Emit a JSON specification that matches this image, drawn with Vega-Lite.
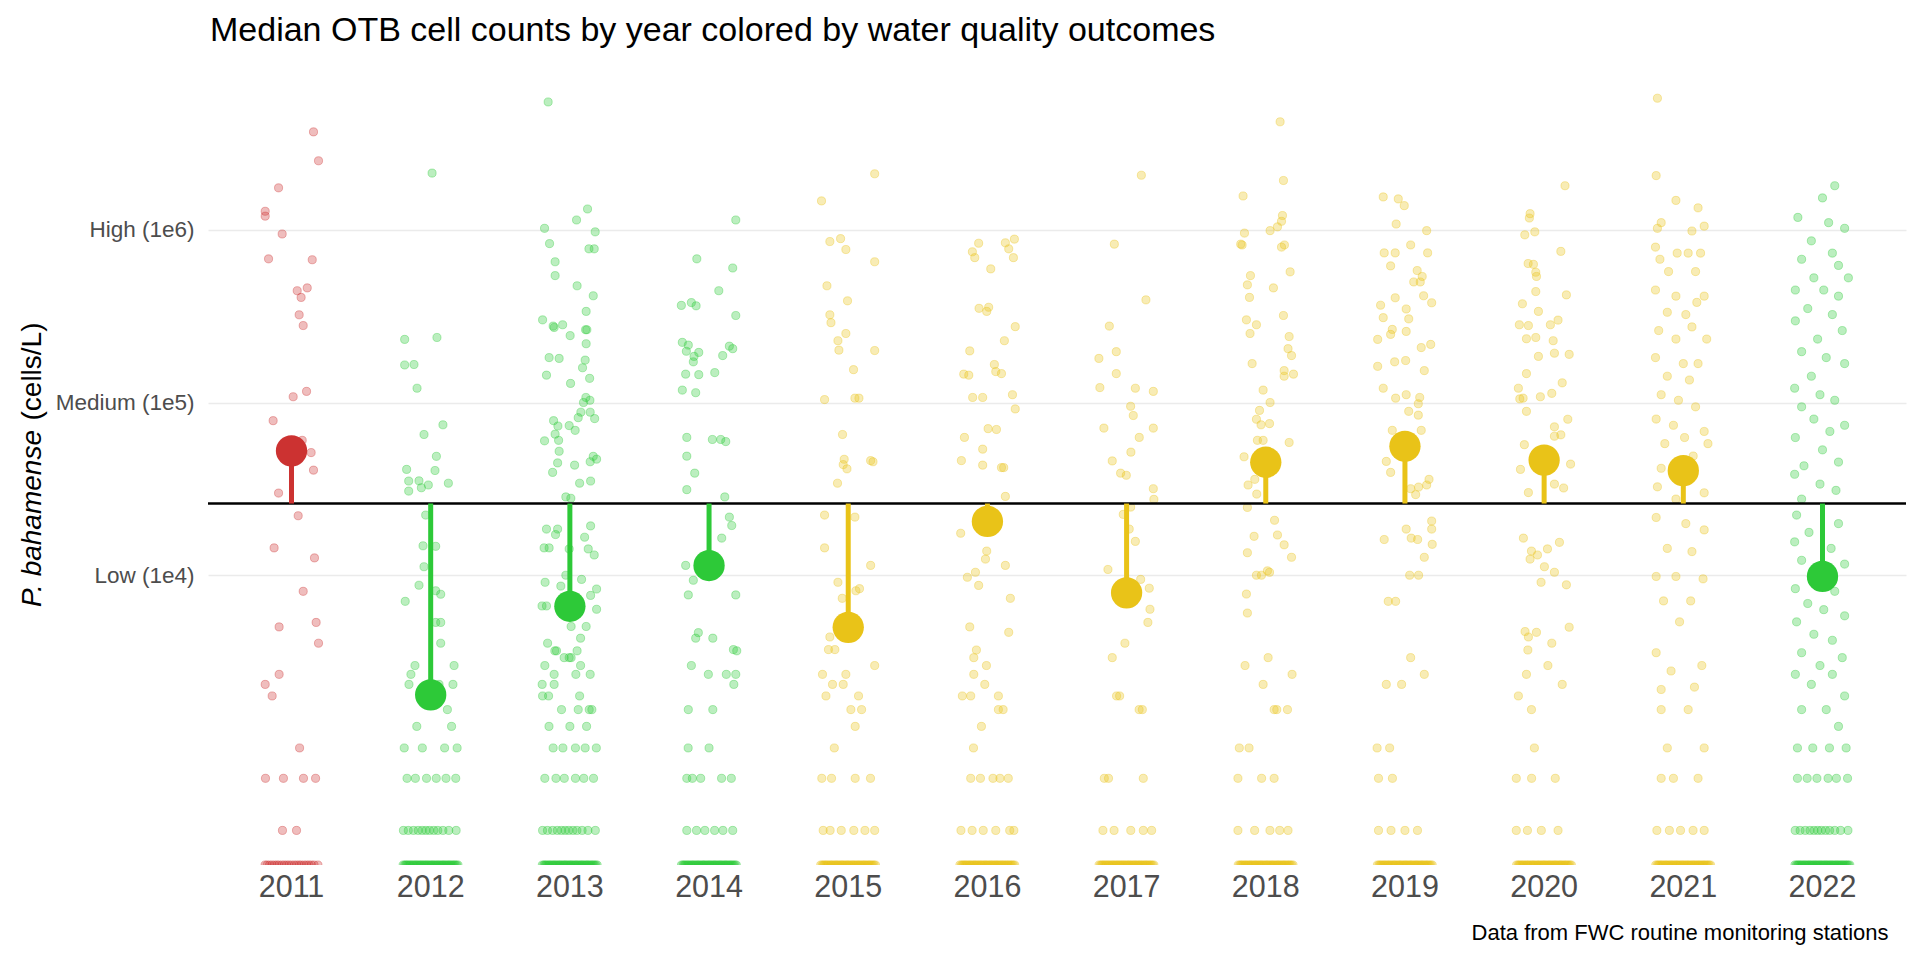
{
  "$schema": "https://vega.github.io/schema/vega-lite/v6.json",
  "width": 1698,
  "height": 800,
  "autosize": {"type": "none"},
  "padding": {"left": 208, "top": 65, "right": 14, "bottom": 95},
  "background": "white",
  "config": {"view": {"stroke": null}, "font": "Liberation Sans"},
  "title": {"text": "Median OTB cell counts by year colored by water quality outcomes", "anchor": "start", "frame": "group", "fontSize": 34, "fontWeight": "normal", "font": "Liberation Sans", "color": "black", "offset": 22, "baseline": "alphabetic", "dx": 2, "dy": 32},
  "datasets": {
    "medians": [
      {"year": "2011", "median": 52500, "threshold": 26000, "outcome": "red"},
      {"year": "2012", "median": 2030, "threshold": 26000, "outcome": "green"},
      {"year": "2013", "median": 6610, "threshold": 26000, "outcome": "green"},
      {"year": "2014", "median": 11380, "threshold": 26000, "outcome": "green"},
      {"year": "2015", "median": 4990, "threshold": 26000, "outcome": "yellow"},
      {"year": "2016", "median": 20490, "threshold": 26000, "outcome": "yellow"},
      {"year": "2017", "median": 7910, "threshold": 26000, "outcome": "yellow"},
      {"year": "2018", "median": 45100, "threshold": 26000, "outcome": "yellow"},
      {"year": "2019", "median": 55800, "threshold": 26000, "outcome": "yellow"},
      {"year": "2020", "median": 46400, "threshold": 26000, "outcome": "yellow"},
      {"year": "2021", "median": 40300, "threshold": 26000, "outcome": "yellow"},
      {"year": "2022", "median": 9840, "threshold": 26000, "outcome": "green"}
    ],
    "counts": [
      {"year":"2011","cells":3690000,"jitter":0.158},{"year":"2011","cells":2510000,"jitter":0.194},{"year":"2011","cells":1750000,"jitter":-0.093},{"year":"2011","cells":1280000,"jitter":-0.189},{"year":"2011","cells":1200000,"jitter":-0.189},{"year":"2011","cells":946000,"jitter":-0.067},{"year":"2011","cells":679000,"jitter":-0.165},{"year":"2011","cells":671000,"jitter":0.149},{"year":"2011","cells":461000,"jitter":0.113},{"year":"2011","cells":444000,"jitter":0.041},{"year":"2011","cells":406000,"jitter":0.069},{"year":"2011","cells":322000,"jitter":0.055},{"year":"2011","cells":279000,"jitter":0.084},{"year":"2011","cells":116000,"jitter":0.108},{"year":"2011","cells":108000,"jitter":0.012},{"year":"2011","cells":78500,"jitter":-0.132},{"year":"2011","cells":60400,"jitter":0.077},{"year":"2011","cells":51300,"jitter":0.141},{"year":"2011","cells":40600,"jitter":0.158},{"year":"2011","cells":29900,"jitter":-0.093},{"year":"2011","cells":22100,"jitter":0.048},{"year":"2011","cells":14400,"jitter":-0.125},{"year":"2011","cells":12600,"jitter":0.165},{"year":"2011","cells":8070,"jitter":0.084},{"year":"2011","cells":5020,"jitter":-0.089},{"year":"2011","cells":5330,"jitter":0.177},{"year":"2011","cells":4040,"jitter":0.194},{"year":"2011","cells":2667,"jitter":-0.089},{"year":"2011","cells":2333,"jitter":-0.189},{"year":"2011","cells":2000,"jitter":-0.139},{"year":"2011","cells":1000,"jitter":0.058},{"year":"2011","cells":667,"jitter":-0.187},{"year":"2011","cells":667,"jitter":-0.058},{"year":"2011","cells":667,"jitter":0.086},{"year":"2011","cells":667,"jitter":0.173},{"year":"2011","cells":333,"jitter":-0.065},{"year":"2011","cells":333,"jitter":0.036},
      {"year":"2011","cells":210,"jitter":-0.19},{"year":"2011","cells":210,"jitter":-0.175},{"year":"2011","cells":210,"jitter":-0.158},{"year":"2011","cells":210,"jitter":-0.14},{"year":"2011","cells":210,"jitter":-0.122},{"year":"2011","cells":210,"jitter":-0.105},{"year":"2011","cells":210,"jitter":-0.09},{"year":"2011","cells":210,"jitter":-0.07},{"year":"2011","cells":210,"jitter":-0.052},{"year":"2011","cells":210,"jitter":-0.035},{"year":"2011","cells":210,"jitter":-0.018},{"year":"2011","cells":210,"jitter":0.0},{"year":"2011","cells":210,"jitter":0.02},{"year":"2011","cells":210,"jitter":0.037},{"year":"2011","cells":210,"jitter":0.055},{"year":"2011","cells":210,"jitter":0.07},{"year":"2011","cells":210,"jitter":0.09},{"year":"2011","cells":210,"jitter":0.108},{"year":"2011","cells":210,"jitter":0.125},{"year":"2011","cells":210,"jitter":0.143},{"year":"2011","cells":210,"jitter":0.162},{"year":"2011","cells":210,"jitter":0.19},

      {"year":"2012","cells":2130000,"jitter":0.01},{"year":"2012","cells":232000,"jitter":-0.187},{"year":"2012","cells":238000,"jitter":0.045},{"year":"2012","cells":165000,"jitter":-0.187},{"year":"2012","cells":166000,"jitter":-0.12},{"year":"2012","cells":121000,"jitter":-0.098},{"year":"2012","cells":74300,"jitter":0.088},{"year":"2012","cells":65300,"jitter":-0.048},{"year":"2012","cells":48800,"jitter":0.041},{"year":"2012","cells":41000,"jitter":-0.173},{"year":"2012","cells":40400,"jitter":0.031},{"year":"2012","cells":35100,"jitter":-0.158},{"year":"2012","cells":35200,"jitter":-0.084},{"year":"2012","cells":32100,"jitter":-0.067},{"year":"2012","cells":33300,"jitter":-0.017},{"year":"2012","cells":34100,"jitter":0.127},{"year":"2012","cells":30700,"jitter":-0.158},{"year":"2012","cells":22300,"jitter":-0.036},{"year":"2012","cells":14800,"jitter":-0.055},{"year":"2012","cells":14700,"jitter":0.036},{"year":"2012","cells":11200,"jitter":-0.048},{"year":"2012","cells":8750,"jitter":-0.084},{"year":"2012","cells":7060,"jitter":-0.183},{"year":"2012","cells":8130,"jitter":0.036},{"year":"2012","cells":7760,"jitter":0.072},{"year":"2012","cells":5330,"jitter":0.036},{"year":"2012","cells":5330,"jitter":0.072},{"year":"2012","cells":4040,"jitter":0.072},{"year":"2012","cells":3000,"jitter":-0.113},{"year":"2012","cells":3000,"jitter":0.168},{"year":"2012","cells":2667,"jitter":-0.142},{"year":"2012","cells":2333,"jitter":-0.156},{"year":"2012","cells":2333,"jitter":0.16},{"year":"2012","cells":2333,"jitter":0.06},{"year":"2012","cells":1667,"jitter":0.12},{"year":"2012","cells":1333,"jitter":-0.1},{"year":"2012","cells":1333,"jitter":0.15},{"year":"2012","cells":1000,"jitter":-0.19},{"year":"2012","cells":1000,"jitter":-0.06},{"year":"2012","cells":1000,"jitter":0.1},{"year":"2012","cells":1000,"jitter":0.19},{"year":"2012","cells":667,"jitter":-0.17},{"year":"2012","cells":667,"jitter":-0.11},{"year":"2012","cells":667,"jitter":-0.03},{"year":"2012","cells":667,"jitter":0.04},{"year":"2012","cells":667,"jitter":0.11},{"year":"2012","cells":667,"jitter":0.18},
      {"year":"2012","cells":333,"jitter":-0.196},{"year":"2012","cells":333,"jitter":-0.161},{"year":"2012","cells":333,"jitter":-0.124},{"year":"2012","cells":333,"jitter":-0.09},{"year":"2012","cells":333,"jitter":-0.061},{"year":"2012","cells":333,"jitter":-0.034},{"year":"2012","cells":333,"jitter":-0.008},{"year":"2012","cells":333,"jitter":0.022},{"year":"2012","cells":333,"jitter":0.051},{"year":"2012","cells":333,"jitter":0.088},{"year":"2012","cells":333,"jitter":0.13},{"year":"2012","cells":333,"jitter":0.183},
      {"year":"2012","cells":210,"jitter":-0.198},{"year":"2012","cells":210,"jitter":-0.187},{"year":"2012","cells":210,"jitter":-0.178},{"year":"2012","cells":210,"jitter":-0.17},{"year":"2012","cells":210,"jitter":-0.16},{"year":"2012","cells":210,"jitter":-0.151},{"year":"2012","cells":210,"jitter":-0.143},{"year":"2012","cells":210,"jitter":-0.132},{"year":"2012","cells":210,"jitter":-0.124},{"year":"2012","cells":210,"jitter":-0.115},{"year":"2012","cells":210,"jitter":-0.106},{"year":"2012","cells":210,"jitter":-0.097},{"year":"2012","cells":210,"jitter":-0.088},{"year":"2012","cells":210,"jitter":-0.079},{"year":"2012","cells":210,"jitter":-0.071},{"year":"2012","cells":210,"jitter":-0.062},{"year":"2012","cells":210,"jitter":-0.052},{"year":"2012","cells":210,"jitter":-0.044},{"year":"2012","cells":210,"jitter":-0.036},{"year":"2012","cells":210,"jitter":-0.027},{"year":"2012","cells":210,"jitter":-0.018},{"year":"2012","cells":210,"jitter":-0.009},{"year":"2012","cells":210,"jitter":0.0},{"year":"2012","cells":210,"jitter":0.008},{"year":"2012","cells":210,"jitter":0.017},{"year":"2012","cells":210,"jitter":0.026},{"year":"2012","cells":210,"jitter":0.035},{"year":"2012","cells":210,"jitter":0.043},{"year":"2012","cells":210,"jitter":0.052},{"year":"2012","cells":210,"jitter":0.061},{"year":"2012","cells":210,"jitter":0.07},{"year":"2012","cells":210,"jitter":0.079},{"year":"2012","cells":210,"jitter":0.087},{"year":"2012","cells":210,"jitter":0.096},{"year":"2012","cells":210,"jitter":0.105},{"year":"2012","cells":210,"jitter":0.114},{"year":"2012","cells":210,"jitter":0.122},{"year":"2012","cells":210,"jitter":0.131},{"year":"2012","cells":210,"jitter":0.14},{"year":"2012","cells":210,"jitter":0.149},{"year":"2012","cells":210,"jitter":0.158},{"year":"2012","cells":210,"jitter":0.167},{"year":"2012","cells":210,"jitter":0.176},{"year":"2012","cells":210,"jitter":0.186},{"year":"2012","cells":210,"jitter":0.196},

      {"year":"2013","cells":5500000,"jitter":-0.156},{"year":"2013","cells":1320000,"jitter":0.127},{"year":"2013","cells":1140000,"jitter":0.048},{"year":"2013","cells":1020000,"jitter":-0.182},{"year":"2013","cells":973000,"jitter":0.182},{"year":"2013","cells":832000,"jitter":-0.146},{"year":"2013","cells":776000,"jitter":0.137},{"year":"2013","cells":776000,"jitter":0.175},{"year":"2013","cells":653000,"jitter":-0.106},{"year":"2013","cells":543000,"jitter":-0.106},{"year":"2013","cells":474000,"jitter":0.052},{"year":"2013","cells":415000,"jitter":0.168},{"year":"2013","cells":337000,"jitter":0.117},{"year":"2013","cells":301000,"jitter":-0.196},{"year":"2013","cells":277000,"jitter":-0.12},{"year":"2013","cells":272000,"jitter":-0.113},{"year":"2013","cells":282000,"jitter":-0.052},{"year":"2013","cells":244000,"jitter":0.002},{"year":"2013","cells":264000,"jitter":0.113},{"year":"2013","cells":264000,"jitter":0.122},{"year":"2013","cells":219000,"jitter":0.117},{"year":"2013","cells":182000,"jitter":-0.149},{"year":"2013","cells":180000,"jitter":-0.077},{"year":"2013","cells":176000,"jitter":0.11},{"year":"2013","cells":144000,"jitter":-0.168},{"year":"2013","cells":159000,"jitter":0.091},{"year":"2013","cells":138000,"jitter":0.142},{"year":"2013","cells":129000,"jitter":0.005},{"year":"2013","cells":107000,"jitter":0.115},{"year":"2013","cells":100000,"jitter":0.098},{"year":"2013","cells":103000,"jitter":0.144},{"year":"2013","cells":87900,"jitter":0.079},{"year":"2013","cells":87900,"jitter":0.146},{"year":"2013","cells":80700,"jitter":0.178},{"year":"2013","cells":81700,"jitter":0.06},{"year":"2013","cells":78500,"jitter":-0.117},{"year":"2013","cells":73100,"jitter":-0.086},{"year":"2013","cells":73500,"jitter":-0.005},{"year":"2013","cells":69000,"jitter":0.038},{"year":"2013","cells":65600,"jitter":-0.106},{"year":"2013","cells":60000,"jitter":-0.182},{"year":"2013","cells":60400,"jitter":-0.081},{"year":"2013","cells":52200,"jitter":-0.077},{"year":"2013","cells":44700,"jitter":-0.088},{"year":"2013","cells":39400,"jitter":-0.124},{"year":"2013","cells":43400,"jitter":0.034},{"year":"2013","cells":48800,"jitter":0.168},{"year":"2013","cells":45400,"jitter":0.146},{"year":"2013","cells":47000,"jitter":0.192},{"year":"2013","cells":34100,"jitter":0.07},{"year":"2013","cells":35100,"jitter":0.149},{"year":"2013","cells":28400,"jitter":-0.029},{"year":"2013","cells":27900,"jitter":0.007},{"year":"2013","cells":18500,"jitter":-0.168},{"year":"2013","cells":18500,"jitter":-0.088},{"year":"2013","cells":17200,"jitter":-0.103},{"year":"2013","cells":19300,"jitter":0.149},{"year":"2013","cells":16600,"jitter":0.106},{"year":"2013","cells":14400,"jitter":-0.185},{"year":"2013","cells":14400,"jitter":-0.149},{"year":"2013","cells":14200,"jitter":-0.005},{"year":"2013","cells":14200,"jitter":0.132},{"year":"2013","cells":13100,"jitter":0.175},{"year":"2013","cells":10000,"jitter":-0.029},{"year":"2013","cells":9100,"jitter":-0.178},{"year":"2013","cells":8650,"jitter":-0.065},{"year":"2013","cells":9460,"jitter":0.084},{"year":"2013","cells":8320,"jitter":0.192},{"year":"2013","cells":7640,"jitter":0.149},{"year":"2013","cells":6640,"jitter":-0.2},{"year":"2013","cells":6640,"jitter":-0.168},{"year":"2013","cells":6350,"jitter":0.192},{"year":"2013","cells":5050,"jitter":0.009},{"year":"2013","cells":5050,"jitter":0.117},{"year":"2013","cells":4320,"jitter":0.077},{"year":"2013","cells":4040,"jitter":-0.16},{"year":"2013","cells":3650,"jitter":-0.108},{"year":"2013","cells":3650,"jitter":-0.096},{"year":"2013","cells":3333,"jitter":-0.041},{"year":"2013","cells":3333,"jitter":-0.005},{"year":"2013","cells":3333,"jitter":0.009},{"year":"2013","cells":3650,"jitter":0.052},{"year":"2013","cells":3000,"jitter":-0.18},{"year":"2013","cells":3000,"jitter":0.077},{"year":"2013","cells":2667,"jitter":-0.113},{"year":"2013","cells":2667,"jitter":0.043},{"year":"2013","cells":2667,"jitter":0.146},{"year":"2013","cells":2333,"jitter":-0.199},{"year":"2013","cells":2333,"jitter":-0.113},{"year":"2013","cells":2000,"jitter":-0.196},{"year":"2013","cells":2000,"jitter":-0.153},{"year":"2013","cells":2000,"jitter":0.07},{"year":"2013","cells":1667,"jitter":-0.06},{"year":"2013","cells":1667,"jitter":0.06},{"year":"2013","cells":1667,"jitter":0.139},{"year":"2013","cells":1667,"jitter":0.158},{"year":"2013","cells":1333,"jitter":-0.15},{"year":"2013","cells":1333,"jitter":0.0},{"year":"2013","cells":1333,"jitter":0.12},{"year":"2013","cells":1000,"jitter":-0.12},{"year":"2013","cells":1000,"jitter":-0.05},{"year":"2013","cells":1000,"jitter":0.04},{"year":"2013","cells":1000,"jitter":0.11},{"year":"2013","cells":1000,"jitter":0.19},{"year":"2013","cells":667,"jitter":-0.18},{"year":"2013","cells":667,"jitter":-0.1},{"year":"2013","cells":667,"jitter":-0.04},{"year":"2013","cells":667,"jitter":0.04},{"year":"2013","cells":667,"jitter":0.1},{"year":"2013","cells":667,"jitter":0.17},
      {"year":"2013","cells":333,"jitter":-0.196},{"year":"2013","cells":333,"jitter":-0.161},{"year":"2013","cells":333,"jitter":-0.124},{"year":"2013","cells":333,"jitter":-0.09},{"year":"2013","cells":333,"jitter":-0.061},{"year":"2013","cells":333,"jitter":-0.034},{"year":"2013","cells":333,"jitter":-0.008},{"year":"2013","cells":333,"jitter":0.022},{"year":"2013","cells":333,"jitter":0.051},{"year":"2013","cells":333,"jitter":0.088},{"year":"2013","cells":333,"jitter":0.13},{"year":"2013","cells":333,"jitter":0.183},
      {"year":"2013","cells":210,"jitter":-0.198},{"year":"2013","cells":210,"jitter":-0.187},{"year":"2013","cells":210,"jitter":-0.178},{"year":"2013","cells":210,"jitter":-0.17},{"year":"2013","cells":210,"jitter":-0.16},{"year":"2013","cells":210,"jitter":-0.151},{"year":"2013","cells":210,"jitter":-0.143},{"year":"2013","cells":210,"jitter":-0.132},{"year":"2013","cells":210,"jitter":-0.124},{"year":"2013","cells":210,"jitter":-0.115},{"year":"2013","cells":210,"jitter":-0.106},{"year":"2013","cells":210,"jitter":-0.097},{"year":"2013","cells":210,"jitter":-0.088},{"year":"2013","cells":210,"jitter":-0.079},{"year":"2013","cells":210,"jitter":-0.071},{"year":"2013","cells":210,"jitter":-0.062},{"year":"2013","cells":210,"jitter":-0.052},{"year":"2013","cells":210,"jitter":-0.044},{"year":"2013","cells":210,"jitter":-0.036},{"year":"2013","cells":210,"jitter":-0.027},{"year":"2013","cells":210,"jitter":-0.018},{"year":"2013","cells":210,"jitter":-0.009},{"year":"2013","cells":210,"jitter":0.0},{"year":"2013","cells":210,"jitter":0.008},{"year":"2013","cells":210,"jitter":0.017},{"year":"2013","cells":210,"jitter":0.026},{"year":"2013","cells":210,"jitter":0.035},{"year":"2013","cells":210,"jitter":0.043},{"year":"2013","cells":210,"jitter":0.052},{"year":"2013","cells":210,"jitter":0.061},{"year":"2013","cells":210,"jitter":0.07},{"year":"2013","cells":210,"jitter":0.079},{"year":"2013","cells":210,"jitter":0.087},{"year":"2013","cells":210,"jitter":0.096},{"year":"2013","cells":210,"jitter":0.105},{"year":"2013","cells":210,"jitter":0.114},{"year":"2013","cells":210,"jitter":0.122},{"year":"2013","cells":210,"jitter":0.131},{"year":"2013","cells":210,"jitter":0.14},{"year":"2013","cells":210,"jitter":0.149},{"year":"2013","cells":210,"jitter":0.158},{"year":"2013","cells":210,"jitter":0.167},{"year":"2013","cells":210,"jitter":0.176},{"year":"2013","cells":210,"jitter":0.186},{"year":"2013","cells":210,"jitter":0.196},

      {"year":"2014","cells":1140000,"jitter":0.192},{"year":"2014","cells":679000,"jitter":-0.088},{"year":"2014","cells":601000,"jitter":0.17},{"year":"2014","cells":444000,"jitter":0.07},{"year":"2014","cells":365000,"jitter":-0.199},{"year":"2014","cells":379000,"jitter":-0.127},{"year":"2014","cells":363000,"jitter":-0.093},{"year":"2014","cells":319000,"jitter":0.192},{"year":"2014","cells":223000,"jitter":-0.192},{"year":"2014","cells":215000,"jitter":-0.149},{"year":"2014","cells":198000,"jitter":-0.163},{"year":"2014","cells":185000,"jitter":-0.108},{"year":"2014","cells":195000,"jitter":-0.074},{"year":"2014","cells":172000,"jitter":-0.113},{"year":"2014","cells":212000,"jitter":0.146},{"year":"2014","cells":205000,"jitter":0.17},{"year":"2014","cells":187000,"jitter":0.098},{"year":"2014","cells":146000,"jitter":-0.168},{"year":"2014","cells":145000,"jitter":-0.074},{"year":"2014","cells":149000,"jitter":0.041},{"year":"2014","cells":118000,"jitter":-0.192},{"year":"2014","cells":114000,"jitter":-0.096},{"year":"2014","cells":62800,"jitter":-0.16},{"year":"2014","cells":61100,"jitter":0.024},{"year":"2014","cells":61100,"jitter":0.084},{"year":"2014","cells":59400,"jitter":0.12},{"year":"2014","cells":48900,"jitter":-0.16},{"year":"2014","cells":39000,"jitter":-0.103},{"year":"2014","cells":31300,"jitter":-0.16},{"year":"2014","cells":28400,"jitter":0.113},{"year":"2014","cells":21700,"jitter":0.146},{"year":"2014","cells":19400,"jitter":0.163},{"year":"2014","cells":16400,"jitter":0.091},{"year":"2014","cells":11400,"jitter":-0.168},{"year":"2014","cells":9350,"jitter":-0.113},{"year":"2014","cells":7690,"jitter":-0.149},{"year":"2014","cells":7690,"jitter":0.192},{"year":"2014","cells":4650,"jitter":-0.077},{"year":"2014","cells":4320,"jitter":-0.096},{"year":"2014","cells":4320,"jitter":0.027},{"year":"2014","cells":3710,"jitter":0.175},{"year":"2014","cells":3650,"jitter":0.199},{"year":"2014","cells":3000,"jitter":-0.127},{"year":"2014","cells":2667,"jitter":-0.005},{"year":"2014","cells":2667,"jitter":0.124},{"year":"2014","cells":2667,"jitter":0.192},{"year":"2014","cells":2333,"jitter":0.178},{"year":"2014","cells":1667,"jitter":-0.149},{"year":"2014","cells":1667,"jitter":0.027},{"year":"2014","cells":1000,"jitter":-0.15},{"year":"2014","cells":1000,"jitter":0.0},{"year":"2014","cells":667,"jitter":-0.16},{"year":"2014","cells":667,"jitter":-0.12},{"year":"2014","cells":667,"jitter":-0.06},{"year":"2014","cells":667,"jitter":0.09},{"year":"2014","cells":667,"jitter":0.16},{"year":"2014","cells":333,"jitter":-0.16},{"year":"2014","cells":333,"jitter":-0.09},{"year":"2014","cells":333,"jitter":-0.03},{"year":"2014","cells":333,"jitter":0.04},{"year":"2014","cells":333,"jitter":0.1},{"year":"2014","cells":333,"jitter":0.17},
      {"year":"2014","cells":210,"jitter":-0.198},{"year":"2014","cells":210,"jitter":-0.187},{"year":"2014","cells":210,"jitter":-0.178},{"year":"2014","cells":210,"jitter":-0.17},{"year":"2014","cells":210,"jitter":-0.16},{"year":"2014","cells":210,"jitter":-0.151},{"year":"2014","cells":210,"jitter":-0.143},{"year":"2014","cells":210,"jitter":-0.132},{"year":"2014","cells":210,"jitter":-0.124},{"year":"2014","cells":210,"jitter":-0.115},{"year":"2014","cells":210,"jitter":-0.106},{"year":"2014","cells":210,"jitter":-0.097},{"year":"2014","cells":210,"jitter":-0.088},{"year":"2014","cells":210,"jitter":-0.079},{"year":"2014","cells":210,"jitter":-0.071},{"year":"2014","cells":210,"jitter":-0.062},{"year":"2014","cells":210,"jitter":-0.052},{"year":"2014","cells":210,"jitter":-0.044},{"year":"2014","cells":210,"jitter":-0.036},{"year":"2014","cells":210,"jitter":-0.027},{"year":"2014","cells":210,"jitter":-0.018},{"year":"2014","cells":210,"jitter":-0.009},{"year":"2014","cells":210,"jitter":0.0},{"year":"2014","cells":210,"jitter":0.008},{"year":"2014","cells":210,"jitter":0.017},{"year":"2014","cells":210,"jitter":0.026},{"year":"2014","cells":210,"jitter":0.035},{"year":"2014","cells":210,"jitter":0.043},{"year":"2014","cells":210,"jitter":0.052},{"year":"2014","cells":210,"jitter":0.061},{"year":"2014","cells":210,"jitter":0.07},{"year":"2014","cells":210,"jitter":0.079},{"year":"2014","cells":210,"jitter":0.087},{"year":"2014","cells":210,"jitter":0.096},{"year":"2014","cells":210,"jitter":0.105},{"year":"2014","cells":210,"jitter":0.114},{"year":"2014","cells":210,"jitter":0.122},{"year":"2014","cells":210,"jitter":0.131},{"year":"2014","cells":210,"jitter":0.14},{"year":"2014","cells":210,"jitter":0.149},{"year":"2014","cells":210,"jitter":0.158},{"year":"2014","cells":210,"jitter":0.167},{"year":"2014","cells":210,"jitter":0.176},{"year":"2014","cells":210,"jitter":0.186},{"year":"2014","cells":210,"jitter":0.196},

      {"year":"2015","cells":1470000,"jitter":-0.192},{"year":"2015","cells":855000,"jitter":-0.132},{"year":"2015","cells":889000,"jitter":-0.055},{"year":"2015","cells":769000,"jitter":-0.017},{"year":"2015","cells":474000,"jitter":-0.153},{"year":"2015","cells":388000,"jitter":-0.005},{"year":"2015","cells":322000,"jitter":-0.132},{"year":"2015","cells":290000,"jitter":-0.124},{"year":"2015","cells":251000,"jitter":-0.017},{"year":"2015","cells":228000,"jitter":-0.074},{"year":"2015","cells":201000,"jitter":-0.067},{"year":"2015","cells":155000,"jitter":0.038},{"year":"2015","cells":104000,"jitter":-0.17},{"year":"2015","cells":106000,"jitter":0.048},{"year":"2015","cells":65300,"jitter":-0.041},{"year":"2015","cells":46900,"jitter":-0.029},{"year":"2015","cells":43700,"jitter":-0.036},{"year":"2015","cells":41300,"jitter":-0.009},{"year":"2015","cells":34100,"jitter":-0.077},{"year":"2015","cells":22300,"jitter":-0.17},{"year":"2015","cells":21700,"jitter":0.048},{"year":"2015","cells":14400,"jitter":-0.17},{"year":"2015","cells":9100,"jitter":-0.074},{"year":"2015","cells":7350,"jitter":-0.043},{"year":"2015","cells":8130,"jitter":0.055},{"year":"2015","cells":8360,"jitter":0.081},{"year":"2015","cells":4390,"jitter":-0.132},{"year":"2015","cells":3710,"jitter":-0.142},{"year":"2015","cells":3710,"jitter":-0.096},{"year":"2015","cells":2667,"jitter":-0.185},{"year":"2015","cells":2667,"jitter":-0.017},{"year":"2015","cells":2333,"jitter":-0.113},{"year":"2015","cells":2333,"jitter":-0.036},{"year":"2015","cells":2000,"jitter":-0.16},{"year":"2015","cells":2000,"jitter":0.074},{"year":"2015","cells":1667,"jitter":0.019},{"year":"2015","cells":1667,"jitter":0.096},{"year":"2015","cells":2110000,"jitter":0.19},{"year":"2015","cells":653000,"jitter":0.19},{"year":"2015","cells":200000,"jitter":0.19},{"year":"2015","cells":46100,"jitter":0.161},{"year":"2015","cells":45400,"jitter":0.178},{"year":"2015","cells":106000,"jitter":0.077},{"year":"2015","cells":11400,"jitter":0.161},{"year":"2015","cells":3000,"jitter":0.19},{"year":"2015","cells":1333,"jitter":0.05},{"year":"2015","cells":1000,"jitter":-0.1},{"year":"2015","cells":667,"jitter":-0.19},{"year":"2015","cells":667,"jitter":-0.12},{"year":"2015","cells":667,"jitter":0.05},{"year":"2015","cells":667,"jitter":0.16},{"year":"2015","cells":333,"jitter":-0.18},{"year":"2015","cells":333,"jitter":-0.13},{"year":"2015","cells":333,"jitter":-0.05},{"year":"2015","cells":333,"jitter":0.04},{"year":"2015","cells":333,"jitter":0.12},{"year":"2015","cells":333,"jitter":0.19},
      {"year":"2015","cells":210,"jitter":-0.198},{"year":"2015","cells":210,"jitter":-0.187},{"year":"2015","cells":210,"jitter":-0.178},{"year":"2015","cells":210,"jitter":-0.17},{"year":"2015","cells":210,"jitter":-0.16},{"year":"2015","cells":210,"jitter":-0.151},{"year":"2015","cells":210,"jitter":-0.143},{"year":"2015","cells":210,"jitter":-0.132},{"year":"2015","cells":210,"jitter":-0.124},{"year":"2015","cells":210,"jitter":-0.115},{"year":"2015","cells":210,"jitter":-0.106},{"year":"2015","cells":210,"jitter":-0.097},{"year":"2015","cells":210,"jitter":-0.088},{"year":"2015","cells":210,"jitter":-0.079},{"year":"2015","cells":210,"jitter":-0.071},{"year":"2015","cells":210,"jitter":-0.062},{"year":"2015","cells":210,"jitter":-0.052},{"year":"2015","cells":210,"jitter":-0.044},{"year":"2015","cells":210,"jitter":-0.036},{"year":"2015","cells":210,"jitter":-0.027},{"year":"2015","cells":210,"jitter":-0.018},{"year":"2015","cells":210,"jitter":-0.009},{"year":"2015","cells":210,"jitter":0.0},{"year":"2015","cells":210,"jitter":0.008},{"year":"2015","cells":210,"jitter":0.017},{"year":"2015","cells":210,"jitter":0.026},{"year":"2015","cells":210,"jitter":0.035},{"year":"2015","cells":210,"jitter":0.043},{"year":"2015","cells":210,"jitter":0.052},{"year":"2015","cells":210,"jitter":0.061},{"year":"2015","cells":210,"jitter":0.07},{"year":"2015","cells":210,"jitter":0.079},{"year":"2015","cells":210,"jitter":0.087},{"year":"2015","cells":210,"jitter":0.096},{"year":"2015","cells":210,"jitter":0.105},{"year":"2015","cells":210,"jitter":0.114},{"year":"2015","cells":210,"jitter":0.122},{"year":"2015","cells":210,"jitter":0.131},{"year":"2015","cells":210,"jitter":0.14},{"year":"2015","cells":210,"jitter":0.149},{"year":"2015","cells":210,"jitter":0.158},{"year":"2015","cells":210,"jitter":0.167},{"year":"2015","cells":210,"jitter":0.176},{"year":"2015","cells":210,"jitter":0.186},{"year":"2015","cells":210,"jitter":0.196},

      {"year":"2016","cells":836000,"jitter":-0.063},{"year":"2016","cells":746000,"jitter":-0.108},{"year":"2016","cells":690000,"jitter":-0.091},{"year":"2016","cells":841000,"jitter":0.129},{"year":"2016","cells":883000,"jitter":0.194},{"year":"2016","cells":776000,"jitter":0.153},{"year":"2016","cells":690000,"jitter":0.187},{"year":"2016","cells":594000,"jitter":0.024},{"year":"2016","cells":351000,"jitter":-0.06},{"year":"2016","cells":356000,"jitter":0.009},{"year":"2016","cells":337000,"jitter":-0.005},{"year":"2016","cells":275000,"jitter":0.2},{"year":"2016","cells":228000,"jitter":0.122},{"year":"2016","cells":199000,"jitter":-0.127},{"year":"2016","cells":166000,"jitter":0.05},{"year":"2016","cells":151000,"jitter":0.06},{"year":"2016","cells":147000,"jitter":0.101},{"year":"2016","cells":146000,"jitter":-0.17},{"year":"2016","cells":144000,"jitter":-0.134},{"year":"2016","cells":107000,"jitter":-0.106},{"year":"2016","cells":107000,"jitter":-0.034},{"year":"2016","cells":111000,"jitter":0.18},{"year":"2016","cells":91800,"jitter":0.2},{"year":"2016","cells":70600,"jitter":0.005},{"year":"2016","cells":69800,"jitter":0.065},{"year":"2016","cells":62800,"jitter":-0.165},{"year":"2016","cells":53700,"jitter":-0.034},{"year":"2016","cells":46100,"jitter":-0.187},{"year":"2016","cells":43400,"jitter":-0.034},{"year":"2016","cells":42000,"jitter":0.101},{"year":"2016","cells":42000,"jitter":0.117},{"year":"2016","cells":28600,"jitter":0.129},{"year":"2016","cells":17500,"jitter":-0.192},{"year":"2016","cells":13800,"jitter":-0.005},{"year":"2016","cells":12400,"jitter":-0.014},{"year":"2016","cells":11400,"jitter":0.129},{"year":"2016","cells":10400,"jitter":-0.086},{"year":"2016","cells":9730,"jitter":-0.144},{"year":"2016","cells":8730,"jitter":-0.063},{"year":"2016","cells":7350,"jitter":0.165},{"year":"2016","cells":5020,"jitter":-0.127},{"year":"2016","cells":4670,"jitter":0.153},{"year":"2016","cells":3690,"jitter":-0.079},{"year":"2016","cells":3333,"jitter":-0.098},{"year":"2016","cells":3000,"jitter":-0.007},{"year":"2016","cells":2667,"jitter":-0.098},{"year":"2016","cells":2333,"jitter":-0.019},{"year":"2016","cells":2000,"jitter":-0.18},{"year":"2016","cells":2000,"jitter":-0.12},{"year":"2016","cells":2000,"jitter":0.079},{"year":"2016","cells":1667,"jitter":0.079},{"year":"2016","cells":1667,"jitter":0.113},{"year":"2016","cells":1333,"jitter":-0.043},{"year":"2016","cells":1000,"jitter":-0.1},{"year":"2016","cells":667,"jitter":-0.12},{"year":"2016","cells":667,"jitter":-0.05},{"year":"2016","cells":667,"jitter":0.04},{"year":"2016","cells":667,"jitter":0.09},{"year":"2016","cells":667,"jitter":0.15},{"year":"2016","cells":333,"jitter":-0.19},{"year":"2016","cells":333,"jitter":-0.11},{"year":"2016","cells":333,"jitter":-0.03},{"year":"2016","cells":333,"jitter":0.06},{"year":"2016","cells":333,"jitter":0.16},{"year":"2016","cells":333,"jitter":0.19},
      {"year":"2016","cells":210,"jitter":-0.198},{"year":"2016","cells":210,"jitter":-0.187},{"year":"2016","cells":210,"jitter":-0.178},{"year":"2016","cells":210,"jitter":-0.17},{"year":"2016","cells":210,"jitter":-0.16},{"year":"2016","cells":210,"jitter":-0.151},{"year":"2016","cells":210,"jitter":-0.143},{"year":"2016","cells":210,"jitter":-0.132},{"year":"2016","cells":210,"jitter":-0.124},{"year":"2016","cells":210,"jitter":-0.115},{"year":"2016","cells":210,"jitter":-0.106},{"year":"2016","cells":210,"jitter":-0.097},{"year":"2016","cells":210,"jitter":-0.088},{"year":"2016","cells":210,"jitter":-0.079},{"year":"2016","cells":210,"jitter":-0.071},{"year":"2016","cells":210,"jitter":-0.062},{"year":"2016","cells":210,"jitter":-0.052},{"year":"2016","cells":210,"jitter":-0.044},{"year":"2016","cells":210,"jitter":-0.036},{"year":"2016","cells":210,"jitter":-0.027},{"year":"2016","cells":210,"jitter":-0.018},{"year":"2016","cells":210,"jitter":-0.009},{"year":"2016","cells":210,"jitter":0.0},{"year":"2016","cells":210,"jitter":0.008},{"year":"2016","cells":210,"jitter":0.017},{"year":"2016","cells":210,"jitter":0.026},{"year":"2016","cells":210,"jitter":0.035},{"year":"2016","cells":210,"jitter":0.043},{"year":"2016","cells":210,"jitter":0.052},{"year":"2016","cells":210,"jitter":0.061},{"year":"2016","cells":210,"jitter":0.07},{"year":"2016","cells":210,"jitter":0.079},{"year":"2016","cells":210,"jitter":0.087},{"year":"2016","cells":210,"jitter":0.096},{"year":"2016","cells":210,"jitter":0.105},{"year":"2016","cells":210,"jitter":0.114},{"year":"2016","cells":210,"jitter":0.122},{"year":"2016","cells":210,"jitter":0.131},{"year":"2016","cells":210,"jitter":0.14},{"year":"2016","cells":210,"jitter":0.149},{"year":"2016","cells":210,"jitter":0.158},{"year":"2016","cells":210,"jitter":0.167},{"year":"2016","cells":210,"jitter":0.176},{"year":"2016","cells":210,"jitter":0.186},{"year":"2016","cells":210,"jitter":0.196},

      {"year":"2017","cells":2070000,"jitter":0.106},{"year":"2017","cells":826000,"jitter":-0.088},{"year":"2017","cells":393000,"jitter":0.139},{"year":"2017","cells":277000,"jitter":-0.124},{"year":"2017","cells":197000,"jitter":-0.074},{"year":"2017","cells":180000,"jitter":-0.199},{"year":"2017","cells":147000,"jitter":-0.074},{"year":"2017","cells":122000,"jitter":-0.192},{"year":"2017","cells":121000,"jitter":0.063},{"year":"2017","cells":116000,"jitter":0.192},{"year":"2017","cells":95100,"jitter":0.029},{"year":"2017","cells":84100,"jitter":0.048},{"year":"2017","cells":71100,"jitter":-0.163},{"year":"2017","cells":71100,"jitter":0.192},{"year":"2017","cells":62800,"jitter":0.091},{"year":"2017","cells":51600,"jitter":0.031},{"year":"2017","cells":45900,"jitter":-0.103},{"year":"2017","cells":39000,"jitter":-0.043},{"year":"2017","cells":37900,"jitter":-0.002},{"year":"2017","cells":31700,"jitter":0.192},{"year":"2017","cells":27500,"jitter":0.196},{"year":"2017","cells":22500,"jitter":-0.024},{"year":"2017","cells":24800,"jitter":0.029},{"year":"2017","cells":18500,"jitter":0.019},{"year":"2017","cells":15700,"jitter":0.063},{"year":"2017","cells":10800,"jitter":-0.134},{"year":"2017","cells":9460,"jitter":0.101},{"year":"2017","cells":8410,"jitter":0.163},{"year":"2017","cells":6350,"jitter":0.168},{"year":"2017","cells":5330,"jitter":0.153},{"year":"2017","cells":4040,"jitter":-0.012},{"year":"2017","cells":3333,"jitter":-0.103},{"year":"2017","cells":2000,"jitter":-0.072},{"year":"2017","cells":2000,"jitter":-0.05},{"year":"2017","cells":1667,"jitter":0.113},{"year":"2017","cells":1667,"jitter":0.09},{"year":"2017","cells":667,"jitter":-0.16},{"year":"2017","cells":667,"jitter":-0.13},{"year":"2017","cells":667,"jitter":0.12},{"year":"2017","cells":333,"jitter":-0.17},{"year":"2017","cells":333,"jitter":-0.09},{"year":"2017","cells":333,"jitter":0.03},{"year":"2017","cells":333,"jitter":0.12},{"year":"2017","cells":333,"jitter":0.18},
      {"year":"2017","cells":210,"jitter":-0.198},{"year":"2017","cells":210,"jitter":-0.187},{"year":"2017","cells":210,"jitter":-0.178},{"year":"2017","cells":210,"jitter":-0.17},{"year":"2017","cells":210,"jitter":-0.16},{"year":"2017","cells":210,"jitter":-0.151},{"year":"2017","cells":210,"jitter":-0.143},{"year":"2017","cells":210,"jitter":-0.132},{"year":"2017","cells":210,"jitter":-0.124},{"year":"2017","cells":210,"jitter":-0.115},{"year":"2017","cells":210,"jitter":-0.106},{"year":"2017","cells":210,"jitter":-0.097},{"year":"2017","cells":210,"jitter":-0.088},{"year":"2017","cells":210,"jitter":-0.079},{"year":"2017","cells":210,"jitter":-0.071},{"year":"2017","cells":210,"jitter":-0.062},{"year":"2017","cells":210,"jitter":-0.052},{"year":"2017","cells":210,"jitter":-0.044},{"year":"2017","cells":210,"jitter":-0.036},{"year":"2017","cells":210,"jitter":-0.027},{"year":"2017","cells":210,"jitter":-0.018},{"year":"2017","cells":210,"jitter":-0.009},{"year":"2017","cells":210,"jitter":0.0},{"year":"2017","cells":210,"jitter":0.008},{"year":"2017","cells":210,"jitter":0.017},{"year":"2017","cells":210,"jitter":0.026},{"year":"2017","cells":210,"jitter":0.035},{"year":"2017","cells":210,"jitter":0.043},{"year":"2017","cells":210,"jitter":0.052},{"year":"2017","cells":210,"jitter":0.061},{"year":"2017","cells":210,"jitter":0.07},{"year":"2017","cells":210,"jitter":0.079},{"year":"2017","cells":210,"jitter":0.087},{"year":"2017","cells":210,"jitter":0.096},{"year":"2017","cells":210,"jitter":0.105},{"year":"2017","cells":210,"jitter":0.114},{"year":"2017","cells":210,"jitter":0.122},{"year":"2017","cells":210,"jitter":0.131},{"year":"2017","cells":210,"jitter":0.14},{"year":"2017","cells":210,"jitter":0.149},{"year":"2017","cells":210,"jitter":0.158},{"year":"2017","cells":210,"jitter":0.167},{"year":"2017","cells":210,"jitter":0.176},{"year":"2017","cells":210,"jitter":0.186},{"year":"2017","cells":210,"jitter":0.196},

      {"year":"2018","cells":4220000,"jitter":0.103},{"year":"2018","cells":1930000,"jitter":0.127},{"year":"2018","cells":1570000,"jitter":-0.163},{"year":"2018","cells":1210000,"jitter":0.12},{"year":"2018","cells":1120000,"jitter":0.113},{"year":"2018","cells":1040000,"jitter":0.084},{"year":"2018","cells":989000,"jitter":0.031},{"year":"2018","cells":957000,"jitter":-0.153},{"year":"2018","cells":826000,"jitter":-0.18},{"year":"2018","cells":817000,"jitter":-0.17},{"year":"2018","cells":794000,"jitter":0.113},{"year":"2018","cells":817000,"jitter":0.134},{"year":"2018","cells":571000,"jitter":0.175},{"year":"2018","cells":543000,"jitter":-0.11},{"year":"2018","cells":480000,"jitter":-0.132},{"year":"2018","cells":406000,"jitter":-0.117},{"year":"2018","cells":461000,"jitter":0.055},{"year":"2018","cells":319000,"jitter":0.127},{"year":"2018","cells":301000,"jitter":-0.139},{"year":"2018","cells":282000,"jitter":-0.067},{"year":"2018","cells":251000,"jitter":-0.113},{"year":"2018","cells":241000,"jitter":0.168},{"year":"2018","cells":205000,"jitter":0.16},{"year":"2018","cells":187000,"jitter":0.185},{"year":"2018","cells":168000,"jitter":-0.098},{"year":"2018","cells":153000,"jitter":0.132},{"year":"2018","cells":142000,"jitter":0.132},{"year":"2018","cells":146000,"jitter":0.199},{"year":"2018","cells":118000,"jitter":-0.019},{"year":"2018","cells":100000,"jitter":0.031},{"year":"2018","cells":90000,"jitter":-0.045},{"year":"2018","cells":80000,"jitter":-0.067},{"year":"2018","cells":74300,"jitter":-0.034},{"year":"2018","cells":75500,"jitter":0.027},{"year":"2018","cells":48500,"jitter":-0.156},{"year":"2018","cells":60400,"jitter":-0.06},{"year":"2018","cells":60400,"jitter":-0.019},{"year":"2018","cells":58700,"jitter":0.168},{"year":"2018","cells":33300,"jitter":-0.127},{"year":"2018","cells":35900,"jitter":-0.079},{"year":"2018","cells":29500,"jitter":-0.065},{"year":"2018","cells":24700,"jitter":-0.132},{"year":"2018","cells":20800,"jitter":0.063},{"year":"2018","cells":16800,"jitter":-0.084},{"year":"2018","cells":17100,"jitter":0.084},{"year":"2018","cells":15000,"jitter":0.132},{"year":"2018","cells":12700,"jitter":0.185},{"year":"2018","cells":13500,"jitter":-0.132},{"year":"2018","cells":10000,"jitter":-0.067},{"year":"2018","cells":10000,"jitter":-0.031},{"year":"2018","cells":10600,"jitter":0.012},{"year":"2018","cells":10400,"jitter":0.027},{"year":"2018","cells":7780,"jitter":-0.139},{"year":"2018","cells":6040,"jitter":-0.132},{"year":"2018","cells":3000,"jitter":-0.149},{"year":"2018","cells":3333,"jitter":0.017},{"year":"2018","cells":2333,"jitter":-0.019},{"year":"2018","cells":2667,"jitter":0.189},{"year":"2018","cells":1667,"jitter":0.06},{"year":"2018","cells":1667,"jitter":0.079},{"year":"2018","cells":1667,"jitter":0.156},{"year":"2018","cells":1000,"jitter":-0.19},{"year":"2018","cells":1000,"jitter":-0.12},{"year":"2018","cells":667,"jitter":-0.2},{"year":"2018","cells":667,"jitter":-0.03},{"year":"2018","cells":667,"jitter":0.06},{"year":"2018","cells":333,"jitter":-0.2},{"year":"2018","cells":333,"jitter":-0.08},{"year":"2018","cells":333,"jitter":0.03},{"year":"2018","cells":333,"jitter":0.1},{"year":"2018","cells":333,"jitter":0.16},
      {"year":"2018","cells":210,"jitter":-0.198},{"year":"2018","cells":210,"jitter":-0.187},{"year":"2018","cells":210,"jitter":-0.178},{"year":"2018","cells":210,"jitter":-0.17},{"year":"2018","cells":210,"jitter":-0.16},{"year":"2018","cells":210,"jitter":-0.151},{"year":"2018","cells":210,"jitter":-0.143},{"year":"2018","cells":210,"jitter":-0.132},{"year":"2018","cells":210,"jitter":-0.124},{"year":"2018","cells":210,"jitter":-0.115},{"year":"2018","cells":210,"jitter":-0.106},{"year":"2018","cells":210,"jitter":-0.097},{"year":"2018","cells":210,"jitter":-0.088},{"year":"2018","cells":210,"jitter":-0.079},{"year":"2018","cells":210,"jitter":-0.071},{"year":"2018","cells":210,"jitter":-0.062},{"year":"2018","cells":210,"jitter":-0.052},{"year":"2018","cells":210,"jitter":-0.044},{"year":"2018","cells":210,"jitter":-0.036},{"year":"2018","cells":210,"jitter":-0.027},{"year":"2018","cells":210,"jitter":-0.018},{"year":"2018","cells":210,"jitter":-0.009},{"year":"2018","cells":210,"jitter":0.0},{"year":"2018","cells":210,"jitter":0.008},{"year":"2018","cells":210,"jitter":0.017},{"year":"2018","cells":210,"jitter":0.026},{"year":"2018","cells":210,"jitter":0.035},{"year":"2018","cells":210,"jitter":0.043},{"year":"2018","cells":210,"jitter":0.052},{"year":"2018","cells":210,"jitter":0.061},{"year":"2018","cells":210,"jitter":0.07},{"year":"2018","cells":210,"jitter":0.079},{"year":"2018","cells":210,"jitter":0.087},{"year":"2018","cells":210,"jitter":0.096},{"year":"2018","cells":210,"jitter":0.105},{"year":"2018","cells":210,"jitter":0.114},{"year":"2018","cells":210,"jitter":0.122},{"year":"2018","cells":210,"jitter":0.131},{"year":"2018","cells":210,"jitter":0.14},{"year":"2018","cells":210,"jitter":0.149},{"year":"2018","cells":210,"jitter":0.158},{"year":"2018","cells":210,"jitter":0.167},{"year":"2018","cells":210,"jitter":0.176},{"year":"2018","cells":210,"jitter":0.186},{"year":"2018","cells":210,"jitter":0.196},

      {"year":"2019","cells":1550000,"jitter":-0.156},{"year":"2019","cells":1510000,"jitter":-0.048},{"year":"2019","cells":1380000,"jitter":-0.005},{"year":"2019","cells":1080000,"jitter":-0.063},{"year":"2019","cells":989000,"jitter":0.156},{"year":"2019","cells":817000,"jitter":0.041},{"year":"2019","cells":735000,"jitter":-0.149},{"year":"2019","cells":735000,"jitter":-0.07},{"year":"2019","cells":618000,"jitter":-0.103},{"year":"2019","cells":581000,"jitter":0.088},{"year":"2019","cells":537000,"jitter":0.124},{"year":"2019","cells":499000,"jitter":0.063},{"year":"2019","cells":499000,"jitter":0.11},{"year":"2019","cells":735000,"jitter":0.163},{"year":"2019","cells":415000,"jitter":0.134},{"year":"2019","cells":378000,"jitter":0.192},{"year":"2019","cells":404000,"jitter":-0.07},{"year":"2019","cells":366000,"jitter":-0.175},{"year":"2019","cells":348000,"jitter":0.009},{"year":"2019","cells":310000,"jitter":-0.156},{"year":"2019","cells":305000,"jitter":0.027},{"year":"2019","cells":265000,"jitter":-0.091},{"year":"2019","cells":248000,"jitter":-0.103},{"year":"2019","cells":258000,"jitter":0.009},{"year":"2019","cells":232000,"jitter":-0.196},{"year":"2019","cells":208000,"jitter":0.117},{"year":"2019","cells":217000,"jitter":0.185},{"year":"2019","cells":162000,"jitter":-0.196},{"year":"2019","cells":172000,"jitter":-0.074},{"year":"2019","cells":175000,"jitter":0.005},{"year":"2019","cells":153000,"jitter":0.139},{"year":"2019","cells":121000,"jitter":-0.156},{"year":"2019","cells":106000,"jitter":-0.067},{"year":"2019","cells":111000,"jitter":0.009},{"year":"2019","cells":107000,"jitter":0.106},{"year":"2019","cells":98400,"jitter":0.096},{"year":"2019","cells":88900,"jitter":0.027},{"year":"2019","cells":84500,"jitter":0.096},{"year":"2019","cells":69000,"jitter":-0.091},{"year":"2019","cells":69000,"jitter":0.117},{"year":"2019","cells":45600,"jitter":-0.134},{"year":"2019","cells":39400,"jitter":-0.103},{"year":"2019","cells":31700,"jitter":0.041},{"year":"2019","cells":29300,"jitter":0.077},{"year":"2019","cells":32400,"jitter":0.098},{"year":"2019","cells":33300,"jitter":0.156},{"year":"2019","cells":35900,"jitter":0.173},{"year":"2019","cells":20600,"jitter":0.192},{"year":"2019","cells":18500,"jitter":0.192},{"year":"2019","cells":15100,"jitter":0.196},{"year":"2019","cells":18500,"jitter":0.009},{"year":"2019","cells":16400,"jitter":0.045},{"year":"2019","cells":16100,"jitter":0.091},{"year":"2019","cells":16100,"jitter":-0.149},{"year":"2019","cells":12700,"jitter":0.139},{"year":"2019","cells":10000,"jitter":0.034},{"year":"2019","cells":10000,"jitter":0.098},{"year":"2019","cells":7060,"jitter":-0.12},{"year":"2019","cells":7060,"jitter":-0.067},{"year":"2019","cells":3333,"jitter":0.041},{"year":"2019","cells":2667,"jitter":0.139},{"year":"2019","cells":2333,"jitter":-0.134},{"year":"2019","cells":2333,"jitter":-0.024},{"year":"2019","cells":1000,"jitter":-0.2},{"year":"2019","cells":1000,"jitter":-0.11},{"year":"2019","cells":667,"jitter":-0.19},{"year":"2019","cells":667,"jitter":-0.09},{"year":"2019","cells":333,"jitter":-0.19},{"year":"2019","cells":333,"jitter":-0.1},{"year":"2019","cells":333,"jitter":0.0},{"year":"2019","cells":333,"jitter":0.09},
      {"year":"2019","cells":210,"jitter":-0.198},{"year":"2019","cells":210,"jitter":-0.187},{"year":"2019","cells":210,"jitter":-0.178},{"year":"2019","cells":210,"jitter":-0.17},{"year":"2019","cells":210,"jitter":-0.16},{"year":"2019","cells":210,"jitter":-0.151},{"year":"2019","cells":210,"jitter":-0.143},{"year":"2019","cells":210,"jitter":-0.132},{"year":"2019","cells":210,"jitter":-0.124},{"year":"2019","cells":210,"jitter":-0.115},{"year":"2019","cells":210,"jitter":-0.106},{"year":"2019","cells":210,"jitter":-0.097},{"year":"2019","cells":210,"jitter":-0.088},{"year":"2019","cells":210,"jitter":-0.079},{"year":"2019","cells":210,"jitter":-0.071},{"year":"2019","cells":210,"jitter":-0.062},{"year":"2019","cells":210,"jitter":-0.052},{"year":"2019","cells":210,"jitter":-0.044},{"year":"2019","cells":210,"jitter":-0.036},{"year":"2019","cells":210,"jitter":-0.027},{"year":"2019","cells":210,"jitter":-0.018},{"year":"2019","cells":210,"jitter":-0.009},{"year":"2019","cells":210,"jitter":0.0},{"year":"2019","cells":210,"jitter":0.008},{"year":"2019","cells":210,"jitter":0.017},{"year":"2019","cells":210,"jitter":0.026},{"year":"2019","cells":210,"jitter":0.035},{"year":"2019","cells":210,"jitter":0.043},{"year":"2019","cells":210,"jitter":0.052},{"year":"2019","cells":210,"jitter":0.061},{"year":"2019","cells":210,"jitter":0.07},{"year":"2019","cells":210,"jitter":0.079},{"year":"2019","cells":210,"jitter":0.087},{"year":"2019","cells":210,"jitter":0.096},{"year":"2019","cells":210,"jitter":0.105},{"year":"2019","cells":210,"jitter":0.114},{"year":"2019","cells":210,"jitter":0.122},{"year":"2019","cells":210,"jitter":0.131},{"year":"2019","cells":210,"jitter":0.14},{"year":"2019","cells":210,"jitter":0.149},{"year":"2019","cells":210,"jitter":0.158},{"year":"2019","cells":210,"jitter":0.167},{"year":"2019","cells":210,"jitter":0.176},{"year":"2019","cells":210,"jitter":0.186},{"year":"2019","cells":210,"jitter":0.196},

      {"year":"2020","cells":1240000,"jitter":-0.101},{"year":"2020","cells":1170000,"jitter":-0.106},{"year":"2020","cells":935000,"jitter":-0.139},{"year":"2020","cells":973000,"jitter":-0.067},{"year":"2020","cells":638000,"jitter":-0.115},{"year":"2020","cells":631000,"jitter":-0.077},{"year":"2020","cells":568000,"jitter":-0.06},{"year":"2020","cells":537000,"jitter":-0.055},{"year":"2020","cells":439000,"jitter":-0.06},{"year":"2020","cells":373000,"jitter":-0.156},{"year":"2020","cells":337000,"jitter":-0.041},{"year":"2020","cells":282000,"jitter":-0.178},{"year":"2020","cells":279000,"jitter":-0.113},{"year":"2020","cells":234000,"jitter":-0.127},{"year":"2020","cells":238000,"jitter":-0.06},{"year":"2020","cells":282000,"jitter":0.045},{"year":"2020","cells":185000,"jitter":-0.041},{"year":"2020","cells":228000,"jitter":0.065},{"year":"2020","cells":193000,"jitter":0.074},{"year":"2020","cells":147000,"jitter":-0.127},{"year":"2020","cells":121000,"jitter":-0.185},{"year":"2020","cells":105000,"jitter":-0.175},{"year":"2020","cells":106000,"jitter":-0.151},{"year":"2020","cells":108000,"jitter":-0.027},{"year":"2020","cells":113000,"jitter":0.055},{"year":"2020","cells":88900,"jitter":-0.127},{"year":"2020","cells":72300,"jitter":0.074},{"year":"2020","cells":63800,"jitter":0.074},{"year":"2020","cells":57000,"jitter":-0.142},{"year":"2020","cells":41000,"jitter":-0.17},{"year":"2020","cells":30100,"jitter":-0.113},{"year":"2020","cells":33700,"jitter":0.074},{"year":"2020","cells":16400,"jitter":-0.149},{"year":"2020","cells":13800,"jitter":-0.091},{"year":"2020","cells":12400,"jitter":-0.101},{"year":"2020","cells":13100,"jitter":-0.048},{"year":"2020","cells":14200,"jitter":0.024},{"year":"2020","cells":11200,"jitter":0.002},{"year":"2020","cells":9100,"jitter":-0.022},{"year":"2020","cells":10400,"jitter":0.074},{"year":"2020","cells":4720,"jitter":-0.137},{"year":"2020","cells":4390,"jitter":-0.113},{"year":"2020","cells":4670,"jitter":-0.055},{"year":"2020","cells":3690,"jitter":-0.117},{"year":"2020","cells":4040,"jitter":0.055},{"year":"2020","cells":3000,"jitter":0.027},{"year":"2020","cells":2667,"jitter":-0.127},{"year":"2020","cells":2000,"jitter":-0.185},{"year":"2020","cells":1667,"jitter":-0.091},{"year":"2020","cells":1800000,"jitter":0.15},{"year":"2020","cells":750000,"jitter":0.12},{"year":"2020","cells":420000,"jitter":0.16},{"year":"2020","cells":300000,"jitter":0.1},{"year":"2020","cells":190000,"jitter":0.18},{"year":"2020","cells":130000,"jitter":0.13},{"year":"2020","cells":80000,"jitter":0.17},{"year":"2020","cells":65000,"jitter":0.12},{"year":"2020","cells":44000,"jitter":0.19},{"year":"2020","cells":32000,"jitter":0.14},{"year":"2020","cells":15500,"jitter":0.11},{"year":"2020","cells":8800,"jitter":0.16},{"year":"2020","cells":5000,"jitter":0.18},{"year":"2020","cells":2333,"jitter":0.13},{"year":"2020","cells":1000,"jitter":-0.07},{"year":"2020","cells":667,"jitter":-0.2},{"year":"2020","cells":667,"jitter":-0.09},{"year":"2020","cells":667,"jitter":0.08},{"year":"2020","cells":333,"jitter":-0.2},{"year":"2020","cells":333,"jitter":-0.12},{"year":"2020","cells":333,"jitter":-0.02},{"year":"2020","cells":333,"jitter":0.1},
      {"year":"2020","cells":210,"jitter":-0.198},{"year":"2020","cells":210,"jitter":-0.187},{"year":"2020","cells":210,"jitter":-0.178},{"year":"2020","cells":210,"jitter":-0.17},{"year":"2020","cells":210,"jitter":-0.16},{"year":"2020","cells":210,"jitter":-0.151},{"year":"2020","cells":210,"jitter":-0.143},{"year":"2020","cells":210,"jitter":-0.132},{"year":"2020","cells":210,"jitter":-0.124},{"year":"2020","cells":210,"jitter":-0.115},{"year":"2020","cells":210,"jitter":-0.106},{"year":"2020","cells":210,"jitter":-0.097},{"year":"2020","cells":210,"jitter":-0.088},{"year":"2020","cells":210,"jitter":-0.079},{"year":"2020","cells":210,"jitter":-0.071},{"year":"2020","cells":210,"jitter":-0.062},{"year":"2020","cells":210,"jitter":-0.052},{"year":"2020","cells":210,"jitter":-0.044},{"year":"2020","cells":210,"jitter":-0.036},{"year":"2020","cells":210,"jitter":-0.027},{"year":"2020","cells":210,"jitter":-0.018},{"year":"2020","cells":210,"jitter":-0.009},{"year":"2020","cells":210,"jitter":0.0},{"year":"2020","cells":210,"jitter":0.008},{"year":"2020","cells":210,"jitter":0.017},{"year":"2020","cells":210,"jitter":0.026},{"year":"2020","cells":210,"jitter":0.035},{"year":"2020","cells":210,"jitter":0.043},{"year":"2020","cells":210,"jitter":0.052},{"year":"2020","cells":210,"jitter":0.061},{"year":"2020","cells":210,"jitter":0.07},{"year":"2020","cells":210,"jitter":0.079},{"year":"2020","cells":210,"jitter":0.087},{"year":"2020","cells":210,"jitter":0.096},{"year":"2020","cells":210,"jitter":0.105},{"year":"2020","cells":210,"jitter":0.114},{"year":"2020","cells":210,"jitter":0.122},{"year":"2020","cells":210,"jitter":0.131},{"year":"2020","cells":210,"jitter":0.14},{"year":"2020","cells":210,"jitter":0.149},{"year":"2020","cells":210,"jitter":0.158},{"year":"2020","cells":210,"jitter":0.167},{"year":"2020","cells":210,"jitter":0.176},{"year":"2020","cells":210,"jitter":0.186},{"year":"2020","cells":210,"jitter":0.196},

      {"year":"2021","cells":5780000,"jitter":-0.186},{"year":"2021","cells":2060000,"jitter":-0.195},{"year":"2021","cells":1020000,"jitter":-0.186},{"year":"2021","cells":1480000,"jitter":-0.053},{"year":"2021","cells":1340000,"jitter":0.106},{"year":"2021","cells":1100000,"jitter":-0.159},{"year":"2021","cells":984000,"jitter":0.062},{"year":"2021","cells":1050000,"jitter":0.15},{"year":"2021","cells":794000,"jitter":-0.2},{"year":"2021","cells":733000,"jitter":-0.044},{"year":"2021","cells":733000,"jitter":0.035},{"year":"2021","cells":733000,"jitter":0.124},{"year":"2021","cells":675000,"jitter":-0.168},{"year":"2021","cells":573000,"jitter":-0.106},{"year":"2021","cells":573000,"jitter":0.088},{"year":"2021","cells":448000,"jitter":-0.2},{"year":"2021","cells":413000,"jitter":-0.053},{"year":"2021","cells":413000,"jitter":0.15},{"year":"2021","cells":333000,"jitter":-0.115},{"year":"2021","cells":323000,"jitter":0.018},{"year":"2021","cells":380000,"jitter":0.097},{"year":"2021","cells":261000,"jitter":-0.177},{"year":"2021","cells":233000,"jitter":-0.053},{"year":"2021","cells":274000,"jitter":0.062},{"year":"2021","cells":233000,"jitter":0.168},{"year":"2021","cells":182000,"jitter":-0.2},{"year":"2021","cells":168000,"jitter":0.0},{"year":"2021","cells":168000,"jitter":0.106},{"year":"2021","cells":142000,"jitter":-0.115},{"year":"2021","cells":135000,"jitter":0.044},{"year":"2021","cells":111000,"jitter":-0.159},{"year":"2021","cells":103000,"jitter":-0.035},{"year":"2021","cells":94400,"jitter":0.088},{"year":"2021","cells":80200,"jitter":-0.195},{"year":"2021","cells":73800,"jitter":-0.071},{"year":"2021","cells":62700,"jitter":0.009},{"year":"2021","cells":68000,"jitter":0.15},{"year":"2021","cells":57800,"jitter":-0.133},{"year":"2021","cells":57800,"jitter":0.177},{"year":"2021","cells":49000,"jitter":0.071},{"year":"2021","cells":41600,"jitter":-0.159},{"year":"2021","cells":32500,"jitter":-0.186},{"year":"2021","cells":30000,"jitter":0.15},{"year":"2021","cells":27600,"jitter":-0.053},{"year":"2021","cells":21600,"jitter":-0.195},{"year":"2021","cells":19900,"jitter":0.018},{"year":"2021","cells":18300,"jitter":0.15},{"year":"2021","cells":14300,"jitter":-0.115},{"year":"2021","cells":13700,"jitter":0.062},{"year":"2021","cells":9840,"jitter":-0.195},{"year":"2021","cells":9840,"jitter":-0.053},{"year":"2021","cells":9530,"jitter":0.142},{"year":"2021","cells":7100,"jitter":-0.142},{"year":"2021","cells":7100,"jitter":0.053},{"year":"2021","cells":5370,"jitter":-0.027},{"year":"2021","cells":3560,"jitter":-0.195},{"year":"2021","cells":2790,"jitter":-0.088},{"year":"2021","cells":3000,"jitter":0.133},{"year":"2021","cells":2180,"jitter":-0.159},{"year":"2021","cells":2250,"jitter":0.08},{"year":"2021","cells":1667,"jitter":-0.159},{"year":"2021","cells":1667,"jitter":0.035},{"year":"2021","cells":1000,"jitter":-0.115},{"year":"2021","cells":1000,"jitter":0.15},{"year":"2021","cells":667,"jitter":-0.159},{"year":"2021","cells":667,"jitter":-0.071},{"year":"2021","cells":667,"jitter":0.106},{"year":"2021","cells":333,"jitter":-0.19},{"year":"2021","cells":333,"jitter":-0.1},{"year":"2021","cells":333,"jitter":-0.02},{"year":"2021","cells":333,"jitter":0.07},{"year":"2021","cells":333,"jitter":0.15},
      {"year":"2021","cells":210,"jitter":-0.198},{"year":"2021","cells":210,"jitter":-0.187},{"year":"2021","cells":210,"jitter":-0.178},{"year":"2021","cells":210,"jitter":-0.17},{"year":"2021","cells":210,"jitter":-0.16},{"year":"2021","cells":210,"jitter":-0.151},{"year":"2021","cells":210,"jitter":-0.143},{"year":"2021","cells":210,"jitter":-0.132},{"year":"2021","cells":210,"jitter":-0.124},{"year":"2021","cells":210,"jitter":-0.115},{"year":"2021","cells":210,"jitter":-0.106},{"year":"2021","cells":210,"jitter":-0.097},{"year":"2021","cells":210,"jitter":-0.088},{"year":"2021","cells":210,"jitter":-0.079},{"year":"2021","cells":210,"jitter":-0.071},{"year":"2021","cells":210,"jitter":-0.062},{"year":"2021","cells":210,"jitter":-0.052},{"year":"2021","cells":210,"jitter":-0.044},{"year":"2021","cells":210,"jitter":-0.036},{"year":"2021","cells":210,"jitter":-0.027},{"year":"2021","cells":210,"jitter":-0.018},{"year":"2021","cells":210,"jitter":-0.009},{"year":"2021","cells":210,"jitter":0.0},{"year":"2021","cells":210,"jitter":0.008},{"year":"2021","cells":210,"jitter":0.017},{"year":"2021","cells":210,"jitter":0.026},{"year":"2021","cells":210,"jitter":0.035},{"year":"2021","cells":210,"jitter":0.043},{"year":"2021","cells":210,"jitter":0.052},{"year":"2021","cells":210,"jitter":0.061},{"year":"2021","cells":210,"jitter":0.07},{"year":"2021","cells":210,"jitter":0.079},{"year":"2021","cells":210,"jitter":0.087},{"year":"2021","cells":210,"jitter":0.096},{"year":"2021","cells":210,"jitter":0.105},{"year":"2021","cells":210,"jitter":0.114},{"year":"2021","cells":210,"jitter":0.122},{"year":"2021","cells":210,"jitter":0.131},{"year":"2021","cells":210,"jitter":0.14},{"year":"2021","cells":210,"jitter":0.149},{"year":"2021","cells":210,"jitter":0.158},{"year":"2021","cells":210,"jitter":0.167},{"year":"2021","cells":210,"jitter":0.176},{"year":"2021","cells":210,"jitter":0.186},{"year":"2021","cells":210,"jitter":0.196},

      {"year":"2022","cells":1800000,"jitter":0.088},{"year":"2022","cells":1530000,"jitter":0.0},{"year":"2022","cells":1180000,"jitter":-0.177},{"year":"2022","cells":1100000,"jitter":0.044},{"year":"2022","cells":1020000,"jitter":0.159},{"year":"2022","cells":863000,"jitter":-0.08},{"year":"2022","cells":733000,"jitter":0.071},{"year":"2022","cells":675000,"jitter":-0.15},{"year":"2022","cells":622000,"jitter":0.115},{"year":"2022","cells":527000,"jitter":-0.062},{"year":"2022","cells":527000,"jitter":0.186},{"year":"2022","cells":448000,"jitter":-0.195},{"year":"2022","cells":448000,"jitter":0.009},{"year":"2022","cells":413000,"jitter":0.115},{"year":"2022","cells":350000,"jitter":-0.106},{"year":"2022","cells":323000,"jitter":0.071},{"year":"2022","cells":261000,"jitter":0.142},{"year":"2022","cells":297000,"jitter":-0.195},{"year":"2022","cells":233000,"jitter":-0.035},{"year":"2022","cells":197000,"jitter":-0.15},{"year":"2022","cells":182000,"jitter":0.027},{"year":"2022","cells":168000,"jitter":0.159},{"year":"2022","cells":142000,"jitter":-0.08},{"year":"2022","cells":121000,"jitter":-0.2},{"year":"2022","cells":111000,"jitter":-0.018},{"year":"2022","cells":103000,"jitter":0.088},{"year":"2022","cells":94400,"jitter":-0.15},{"year":"2022","cells":80200,"jitter":-0.062},{"year":"2022","cells":68000,"jitter":0.053},{"year":"2022","cells":73800,"jitter":0.159},{"year":"2022","cells":62700,"jitter":-0.195},{"year":"2022","cells":53200,"jitter":0.0},{"year":"2022","cells":45200,"jitter":0.115},{"year":"2022","cells":43000,"jitter":-0.133},{"year":"2022","cells":38400,"jitter":-0.2},{"year":"2022","cells":33700,"jitter":-0.018},{"year":"2022","cells":31000,"jitter":0.097},{"year":"2022","cells":27600,"jitter":-0.15},{"year":"2022","cells":22300,"jitter":-0.186},{"year":"2022","cells":19900,"jitter":0.115},{"year":"2022","cells":17700,"jitter":-0.097},{"year":"2022","cells":15600,"jitter":-0.2},{"year":"2022","cells":14300,"jitter":0.062},{"year":"2022","cells":12200,"jitter":-0.15},{"year":"2022","cells":11600,"jitter":0.159},{"year":"2022","cells":8360,"jitter":-0.195},{"year":"2022","cells":8070,"jitter":0.088},{"year":"2022","cells":6860,"jitter":-0.106},{"year":"2022","cells":6320,"jitter":0.009},{"year":"2022","cells":5820,"jitter":0.159},{"year":"2022","cells":5370,"jitter":-0.186},{"year":"2022","cells":4550,"jitter":-0.062},{"year":"2022","cells":4200,"jitter":0.071},{"year":"2022","cells":3560,"jitter":-0.15},{"year":"2022","cells":3333,"jitter":0.142},{"year":"2022","cells":3000,"jitter":-0.018},{"year":"2022","cells":2667,"jitter":-0.195},{"year":"2022","cells":2667,"jitter":0.071},{"year":"2022","cells":2333,"jitter":-0.08},{"year":"2022","cells":2000,"jitter":0.159},{"year":"2022","cells":1667,"jitter":-0.15},{"year":"2022","cells":1667,"jitter":0.027},{"year":"2022","cells":1333,"jitter":0.115},{"year":"2022","cells":1000,"jitter":-0.18},{"year":"2022","cells":1000,"jitter":-0.07},{"year":"2022","cells":1000,"jitter":0.05},{"year":"2022","cells":1000,"jitter":0.17},{"year":"2022","cells":667,"jitter":-0.18},{"year":"2022","cells":667,"jitter":-0.11},{"year":"2022","cells":667,"jitter":-0.04},{"year":"2022","cells":667,"jitter":0.04},{"year":"2022","cells":667,"jitter":0.1},{"year":"2022","cells":667,"jitter":0.18},
      {"year":"2022","cells":333,"jitter":-0.196},{"year":"2022","cells":333,"jitter":-0.161},{"year":"2022","cells":333,"jitter":-0.124},{"year":"2022","cells":333,"jitter":-0.09},{"year":"2022","cells":333,"jitter":-0.061},{"year":"2022","cells":333,"jitter":-0.034},{"year":"2022","cells":333,"jitter":-0.008},{"year":"2022","cells":333,"jitter":0.022},{"year":"2022","cells":333,"jitter":0.051},{"year":"2022","cells":333,"jitter":0.088},{"year":"2022","cells":333,"jitter":0.13},{"year":"2022","cells":333,"jitter":0.183},
      {"year":"2022","cells":210,"jitter":-0.198},{"year":"2022","cells":210,"jitter":-0.187},{"year":"2022","cells":210,"jitter":-0.178},{"year":"2022","cells":210,"jitter":-0.17},{"year":"2022","cells":210,"jitter":-0.16},{"year":"2022","cells":210,"jitter":-0.151},{"year":"2022","cells":210,"jitter":-0.143},{"year":"2022","cells":210,"jitter":-0.132},{"year":"2022","cells":210,"jitter":-0.124},{"year":"2022","cells":210,"jitter":-0.115},{"year":"2022","cells":210,"jitter":-0.106},{"year":"2022","cells":210,"jitter":-0.097},{"year":"2022","cells":210,"jitter":-0.088},{"year":"2022","cells":210,"jitter":-0.079},{"year":"2022","cells":210,"jitter":-0.071},{"year":"2022","cells":210,"jitter":-0.062},{"year":"2022","cells":210,"jitter":-0.052},{"year":"2022","cells":210,"jitter":-0.044},{"year":"2022","cells":210,"jitter":-0.036},{"year":"2022","cells":210,"jitter":-0.027},{"year":"2022","cells":210,"jitter":-0.018},{"year":"2022","cells":210,"jitter":-0.009},{"year":"2022","cells":210,"jitter":0.0},{"year":"2022","cells":210,"jitter":0.008},{"year":"2022","cells":210,"jitter":0.017},{"year":"2022","cells":210,"jitter":0.026},{"year":"2022","cells":210,"jitter":0.035},{"year":"2022","cells":210,"jitter":0.043},{"year":"2022","cells":210,"jitter":0.052},{"year":"2022","cells":210,"jitter":0.061},{"year":"2022","cells":210,"jitter":0.07},{"year":"2022","cells":210,"jitter":0.079},{"year":"2022","cells":210,"jitter":0.087},{"year":"2022","cells":210,"jitter":0.096},{"year":"2022","cells":210,"jitter":0.105},{"year":"2022","cells":210,"jitter":0.114},{"year":"2022","cells":210,"jitter":0.122},{"year":"2022","cells":210,"jitter":0.131},{"year":"2022","cells":210,"jitter":0.14},{"year":"2022","cells":210,"jitter":0.149},{"year":"2022","cells":210,"jitter":0.158},{"year":"2022","cells":210,"jitter":0.167},{"year":"2022","cells":210,"jitter":0.176},{"year":"2022","cells":210,"jitter":0.186},{"year":"2022","cells":210,"jitter":0.196}
    ]
  },
  "layer": [
    {
      "data": {"name": "counts"},
      "transform": [{"lookup": "year", "from": {"data": {"name": "medians"}, "key": "year", "fields": ["outcome"]}}],
      "mark": {"type": "circle", "size": 66, "opacity": 1, "fillOpacity": 0.32, "strokeOpacity": 0.36, "strokeWidth": 1, "clip": true},
      "encoding": {
        "x": {"field": "year", "type": "ordinal", "scale": {"type": "band", "paddingInner": 0, "paddingOuter": 0.1},
          "axis": {"title": "Data from FWC routine monitoring stations", "titleAnchor": "end", "titleAlign": "right", "titleX": 1680, "titleFontSize": 22, "titleFontWeight": "normal", "titleColor": "black", "titleFont": "Liberation Sans", "titlePadding": 20, "labelFontSize": 30.5, "labelColor": "#4d4d4d", "labelFont": "Liberation Sans", "labelPadding": 7, "labelAngle": 0, "ticks": false, "domain": false, "grid": false}},
        "xOffset": {"field": "jitter", "type": "quantitative", "scale": {"domain": [-0.5, 0.5]}},
        "y": {"field": "cells", "type": "quantitative", "scale": {"type": "log", "domain": [210, 9000000], "nice": false},
          "axis": {"orient": "left", "values": [10000, 100000, 1000000], "labelExpr": "datum.value >= 999999 ? 'High (1e6)' : datum.value >= 99999 ? 'Medium (1e5)' : 'Low (1e4)'", "labelFontSize": 22.5, "labelColor": "#4d4d4d", "labelFont": "Liberation Sans", "labelPadding": 14, "ticks": false, "domain": false, "grid": true, "gridColor": "#ebebeb", "gridWidth": 1.6,
            "title": "P. bahamense", "titleFontStyle": "italic", "titleFontSize": 28, "titleFontWeight": "normal", "titleColor": "black", "titleFont": "Liberation Sans", "titleX": -168, "titleY": 453, "titleAngle": -90, "titleAlign": "center", "titleBaseline": "alphabetic"}},
        "color": {"field": "outcome", "type": "nominal", "scale": {"domain": ["red", "yellow", "green"], "range": ["#CC3231", "#E9C318", "#2DC938"]}, "legend": null},
        "stroke": {"field": "outcome", "type": "nominal", "scale": {"domain": ["red", "yellow", "green"], "range": ["#CC3231", "#E9C318", "#2DC938"]}, "legend": null}
      }
    },
    {
      "data": {"values": [{"threshold": 26000}]},
      "mark": {"type": "rule", "color": "black", "strokeWidth": 2.5},
      "encoding": {
        "y": {"field": "threshold", "type": "quantitative", "scale": {"type": "log", "domain": [210, 9000000], "nice": false},
          "axis": {"orient": "left", "title": "(cells/L)", "labels": false, "ticks": false, "domain": false, "grid": false, "titleFontSize": 28, "titleFontWeight": "normal", "titleFontStyle": "normal", "titleColor": "black", "titleFont": "Liberation Sans", "titleX": -168, "titleY": 306, "titleAngle": -90, "titleAlign": "center", "titleBaseline": "alphabetic"}}
      }
    },
    {
      "data": {"name": "medians"},
      "mark": {"type": "rule", "strokeWidth": 5},
      "encoding": {
        "x": {"field": "year", "type": "ordinal", "scale": {"type": "band", "paddingInner": 0, "paddingOuter": 0.1},
          "axis": {"title": "Data from FWC routine monitoring stations", "titleAnchor": "end", "titleAlign": "right", "titleX": 1680, "titleFontSize": 22, "titleFontWeight": "normal", "titleColor": "black", "titleFont": "Liberation Sans", "titlePadding": 20, "labelFontSize": 30.5, "labelColor": "#4d4d4d", "labelFont": "Liberation Sans", "labelPadding": 7, "labelAngle": 0, "ticks": false, "domain": false, "grid": false}},
        "y": {"field": "threshold", "type": "quantitative", "scale": {"type": "log", "domain": [210, 9000000], "nice": false}, "axis": null},
        "y2": {"field": "median"},
        "color": {"field": "outcome", "type": "nominal", "scale": {"domain": ["red", "yellow", "green"], "range": ["#CC3231", "#E9C318", "#2DC938"]}, "legend": null}
      }
    },
    {
      "data": {"name": "medians"},
      "mark": {"type": "circle", "size": 980, "opacity": 1},
      "encoding": {
        "x": {"field": "year", "type": "ordinal", "scale": {"type": "band", "paddingInner": 0, "paddingOuter": 0.1},
          "axis": {"title": "Data from FWC routine monitoring stations", "titleAnchor": "end", "titleAlign": "right", "titleX": 1680, "titleFontSize": 22, "titleFontWeight": "normal", "titleColor": "black", "titleFont": "Liberation Sans", "titlePadding": 20, "labelFontSize": 30.5, "labelColor": "#4d4d4d", "labelFont": "Liberation Sans", "labelPadding": 7, "labelAngle": 0, "ticks": false, "domain": false, "grid": false}},
        "y": {"field": "median", "type": "quantitative", "scale": {"type": "log", "domain": [210, 9000000], "nice": false}, "axis": null},
        "color": {"field": "outcome", "type": "nominal", "scale": {"domain": ["red", "yellow", "green"], "range": ["#CC3231", "#E9C318", "#2DC938"]}, "legend": null}
      }
    }
  ],
  "resolve": {"axis": {"y": "independent"}}
}
